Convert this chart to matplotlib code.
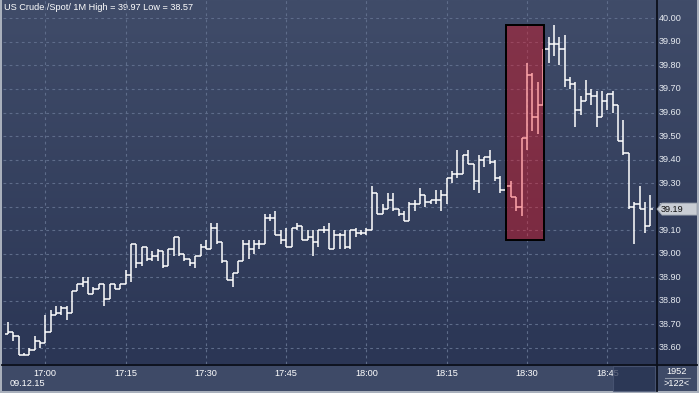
import numpy as np
import matplotlib
matplotlib.use("Agg")
import matplotlib.pyplot as plt
from matplotlib.patches import Rectangle, Polygon
from matplotlib.collections import LineCollection
from matplotlib.transforms import blended_transform_factory

plt.rcParams['font.family'] = ['Liberation Sans', 'DejaVu Sans']

# ---------------- data ----------------
title = "US Crude /Spot/ 1M High = 39.97 Low = 38.57"
date_label = "09.12.15"
counter_top = "1952"
counter_bottom = ">122<"
last_price = 39.19

opens = [38.66, 38.67, 38.65, 38.57, 38.57, 38.59, 38.63, 38.62, 38.67, 38.74,
         38.75, 38.77, 38.75, 38.84, 38.87, 38.88, 38.83, 38.85, 38.87, 38.81,
         38.87, 38.85, 38.87, 38.91, 39.04, 38.96, 39.03, 38.98, 38.99, 39.01,
         38.95, 39.02, 39.07, 39.00, 38.98, 38.96, 38.99, 39.03, 39.02, 39.11,
         39.05, 38.97, 38.89, 38.92, 38.97, 39.04, 39.02, 39.04, 39.04, 39.15,
         39.15, 39.08, 39.06, 39.03, 39.11, 39.12, 39.06, 39.07, 39.05, 39.10,
         39.10, 39.02, 39.08, 39.08, 39.03, 39.10, 39.09, 39.09, 39.10, 39.26,
         39.17, 39.19, 39.23, 39.19, 39.17, 39.14, 39.21, 39.21, 39.25, 39.22,
         39.23, 39.23, 39.25, 39.32, 39.34, 39.34, 39.42, 39.38, 39.31, 39.40,
         39.41, 39.39, 39.32, 39.27, 39.29, 39.24, 39.20, 39.49, 39.76, 39.58,
         39.63, 39.87, 39.89, 39.89, 39.87, 39.74, 39.72, 39.61, 39.65, 39.68,
         39.67, 39.58, 39.65, 39.68, 39.63, 39.48, 39.43, 39.20, 39.21, 39.19,
         39.12]
highs = [38.71, 38.67, 38.65, 38.58, 38.60, 38.65, 38.63, 38.74, 38.76, 38.78,
         38.78, 38.78, 38.84, 38.87, 38.90, 38.90, 38.86, 38.87, 38.87, 38.87,
         38.87, 38.87, 38.93, 39.04, 39.04, 39.03, 39.03, 39.01, 39.02, 39.01,
         39.02, 39.07, 39.07, 39.00, 38.98, 38.99, 39.04, 39.06, 39.13, 39.13,
         39.05, 38.97, 38.92, 38.97, 39.06, 39.06, 39.06, 39.06, 39.17, 39.17,
         39.18, 39.10, 39.11, 39.11, 39.13, 39.12, 39.10, 39.10, 39.10, 39.12,
         39.13, 39.10, 39.09, 39.10, 39.10, 39.11, 39.10, 39.11, 39.29, 39.26,
         39.21, 39.26, 39.26, 39.19, 39.18, 39.22, 39.23, 39.28, 39.25, 39.23,
         39.27, 39.27, 39.32, 39.35, 39.44, 39.42, 39.44, 39.38, 39.42, 39.41,
         39.44, 39.40, 39.33, 39.29, 39.31, 39.24, 39.49, 39.81, 39.77, 39.73,
         39.87, 39.92, 39.97, 39.92, 39.93, 39.75, 39.73, 39.67, 39.74, 39.70,
         39.69, 39.69, 39.68, 39.69, 39.63, 39.57, 39.43, 39.22, 39.29, 39.22,
         39.25]
lows = [38.66, 38.63, 38.57, 38.57, 38.57, 38.59, 38.60, 38.62, 38.67, 38.74,
        38.74, 38.72, 38.75, 38.84, 38.86, 38.83, 38.83, 38.85, 38.78, 38.81,
        38.85, 38.85, 38.87, 38.88, 38.94, 38.95, 38.97, 38.97, 38.97, 38.94,
        38.95, 38.99, 38.99, 38.97, 38.95, 38.94, 38.99, 39.02, 39.02, 39.04,
        38.96, 38.89, 38.86, 38.92, 38.97, 38.98, 39.00, 39.02, 39.04, 39.14,
        39.08, 39.04, 39.03, 39.03, 39.10, 39.06, 39.06, 38.99, 39.03, 39.09,
        39.02, 39.02, 39.02, 39.02, 39.02, 39.07, 39.08, 39.08, 39.10, 39.17,
        39.17, 39.19, 39.18, 39.16, 39.14, 39.14, 39.18, 39.21, 39.20, 39.21,
        39.21, 39.18, 39.21, 39.30, 39.32, 39.34, 39.38, 39.27, 39.26, 39.37,
        39.38, 39.31, 39.26, 39.27, 39.24, 39.18, 39.16, 39.44, 39.52, 39.51,
        39.63, 39.81, 39.84, 39.80, 39.71, 39.70, 39.54, 39.59, 39.65, 39.63,
        39.54, 39.58, 39.61, 39.60, 39.48, 39.42, 39.19, 39.04, 39.19, 39.09,
        39.12]
closes = [38.67, 38.65, 38.57, 38.57, 38.59, 38.63, 38.62, 38.67, 38.74, 38.75,
          38.77, 38.75, 38.84, 38.87, 38.88, 38.83, 38.85, 38.87, 38.81, 38.87,
          38.85, 38.87, 38.91, 39.04, 38.96, 39.03, 38.98, 38.99, 39.01, 38.95,
          39.02, 39.07, 39.00, 38.98, 38.96, 38.99, 39.03, 39.02, 39.11, 39.05,
          38.97, 38.89, 38.92, 38.97, 39.04, 39.02, 39.04, 39.04, 39.15, 39.15,
          39.08, 39.06, 39.03, 39.11, 39.12, 39.06, 39.07, 39.05, 39.10, 39.10,
          39.02, 39.08, 39.08, 39.03, 39.10, 39.09, 39.09, 39.10, 39.26, 39.17,
          39.19, 39.23, 39.19, 39.17, 39.14, 39.21, 39.21, 39.25, 39.22, 39.23,
          39.23, 39.25, 39.32, 39.34, 39.34, 39.42, 39.38, 39.31, 39.40, 39.41,
          39.39, 39.32, 39.27, 39.29, 39.24, 39.20, 39.49, 39.76, 39.58, 39.63,
          39.87, 39.89, 39.89, 39.87, 39.74, 39.72, 39.61, 39.65, 39.68, 39.67,
          39.58, 39.65, 39.68, 39.63, 39.48, 39.43, 39.20, 39.21, 39.19, 39.12,
          39.19]

x_tick_labels = ["17:00", "17:15", "17:30", "17:45", "18:00", "18:15", "18:30", "18:45"]
x_tick_bars = [7, 22, 37, 52, 67, 82, 97, 112]        # bar index of each label (1-minute bars from 16:53)
y_ticks = [38.60, 38.70, 38.80, 38.90, 39.00, 39.10, 39.20, 39.30,
           39.40, 39.50, 39.60, 39.70, 39.80, 39.90, 40.00]
highlight_bars = (93.1, 100.1)
highlight_prices = (39.06, 39.97)

# ---------------- figure ----------------
W, H = 699, 393
fig = plt.figure(figsize=(W / 100, H / 100), dpi=100)
fig.patch.set_facecolor('#a9b0bc')

bg = fig.add_axes([0, 0, 1, 1])
bg.set_xlim(0, W)
bg.set_ylim(H, 0)
bg.axis('off')

top_c = np.array([0x40, 0x4c, 0x69]) / 255
bot_c = np.array([0x2b, 0x36, 0x55]) / 255
t = np.linspace(0, 1, 256)[:, None, None]
grad = top_c[None, None, :] * (1 - t) + bot_c[None, None, :] * t
bg.imshow(grad, extent=[2, 697, 364, 0], aspect='auto', zorder=0, interpolation='bilinear')
bg.add_patch(Rectangle((2, 364), 695, 27, facecolor='#3e4a67', edgecolor='none', zorder=0.5))
bg.plot([2, 697], [364.5, 364.5], color='#0b0f1a', lw=1.3, zorder=3)
bg.plot([656.5, 656.5], [0, 391], color='#0b0f1a', lw=1.3, zorder=3)

# main axes
L, R, T, B = 3, 656, 0, 364
ax = fig.add_axes([L / W, (H - B) / H, (R - L) / W, (B - T) / H])
ax.set_facecolor('none')
ax.set_xlim(-0.9, 121.08)
ax.set_ylim(38.532, 40.078)
ax.set_xticks(x_tick_bars)
ax.set_yticks(y_ticks)
ax.tick_params(length=0, labelbottom=False, labelleft=False)
for s in ax.spines.values():
    s.set_visible(False)
ax.grid(True, color='#5e6c8a', lw=0.8, linestyle=(0, (2.5, 3)))
ax.set_axisbelow(True)

# OHLC bars
segs = []
for i, (o, h, l, c) in enumerate(zip(opens, highs, lows, closes)):
    segs.append([(i, l), (i, h)])
    segs.append([(i - 0.5, o), (i, o)])
    segs.append([(i, c), (i + 0.5, c)])
ax.add_collection(LineCollection(segs, colors='white', linewidths=1.1, zorder=3,
                                 capstyle='butt'))

# highlight box (semi-transparent red overlay)
ax.add_patch(Rectangle((highlight_bars[0], highlight_prices[0]),
                       highlight_bars[1] - highlight_bars[0],
                       highlight_prices[1] - highlight_prices[0],
                       facecolor=(1.0, 0.04, 0.08, 0.36), edgecolor='black',
                       lw=1.4, zorder=5))

# title
bg.text(4, 7.5, title, color='white', fontsize=6.6, va='center', ha='left', zorder=6)

# y labels on right panel
ytr = blended_transform_factory(bg.transData, ax.transData)
for v in y_ticks:
    bg.text(659, v, f"{v:.2f}", transform=ytr, color='#e6eaf0', fontsize=6.6,
            va='center', ha='left', zorder=4)

# last price tag
y_disp = ax.transData.transform((0, last_price))[1]
yp = H - y_disp
bg.add_patch(Polygon([(657, yp), (662, yp - 6), (697, yp - 6), (697, yp + 6), (662, yp + 6)],
                     closed=True, facecolor='#c9cdd4', edgecolor='#9aa1ad', lw=0.6, zorder=7))
bg.text(661, yp, f"{last_price:.2f}", color='#111111', fontsize=6.6, va='center',
        ha='left', zorder=8)

# x labels
xtr = blended_transform_factory(ax.transData, bg.transData)
for xb, lab in zip(x_tick_bars, x_tick_labels):
    bg.text(xb, 373, lab, transform=xtr, color='white', fontsize=6.6, ha='center',
            va='center', zorder=4)
bg.text(10, 383.5, date_label, color='white', fontsize=6.6, ha='left', va='center', zorder=4)

# dark scroll block (semi-transparent, dims the label beneath)
bg.add_patch(Rectangle((613, 365.5), 42, 25, facecolor='#263150', edgecolor='#4d5a78',
                       lw=0.8, alpha=0.72, zorder=5))

# counter
bg.text(677, 371.5, counter_top, color='white', fontsize=6.6, ha='center', va='center', zorder=4)
bg.plot([665, 690], [377.5, 377.5], color='#8e97a8', lw=0.8, zorder=4)
bg.text(677, 384, counter_bottom, color='white', fontsize=6.6, ha='center', va='center', zorder=4)

fig.savefig('out.png', dpi=100, facecolor=fig.get_facecolor())
